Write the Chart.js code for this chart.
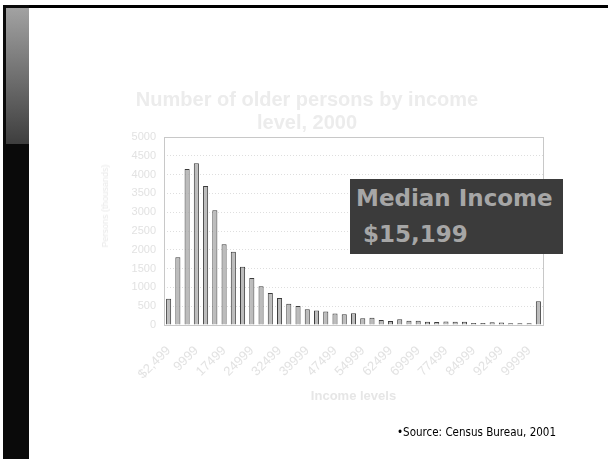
<!DOCTYPE html>
<html>
<head>
<meta charset="utf-8">
<script src="https://cdn.jsdelivr.net/npm/chart.js@4.4.0/dist/chart.umd.min.js"></script>
<style>
  body { margin: 0; background: #fff; }
  #slide { position: relative; width: 608px; height: 459px; overflow: hidden; background: #fff; }
  .frame { position: absolute; }
  #chartBox { position: absolute; left: 0; top: 0; width: 608px; height: 459px; }
  #median { position: absolute; left: 350px; top: 179px; width: 213px; height: 75px; background: #3b3b3b; }
  .med { position: absolute; color: #a6a6a6; font-family: "DejaVu Sans", sans-serif; font-weight: bold; font-size: 23px; line-height: normal; white-space: nowrap; }
  #ytitle { position: absolute; left: 105px; top: 206px; transform: translate(-50%, -50%) rotate(-90deg); font-family: "Liberation Sans", Arial, sans-serif; font-size: 9px; color: #e8e8e8; white-space: nowrap; }
  #source { position: absolute; left: 397px; top: 425px; font-family: "DejaVu Sans Condensed", "DejaVu Sans", sans-serif; font-size: 11.5px; color: #000; white-space: nowrap; line-height: normal; }
</style>
</head>
<body>
<div id="slide">
  <div class="frame" style="left:3px;top:5px;width:605px;height:3px;background:#000"></div>
  <div class="frame" style="left:3px;top:5px;width:26px;height:454px;background:#0a0a0a"></div>
  <div class="frame" style="left:6px;top:8px;width:23px;height:136px;background:linear-gradient(#a2a2a2,#3e3e3e)"></div>
  <div id="chartBox"><canvas id="myChart"></canvas></div>
  <div id="ytitle">Persons (thousands)</div>
  <div id="median">
    <span class="med" style="left:6px;top:6px">Median Income</span>
    <span class="med" style="left:13px;top:42px">$15,199</span>
  </div>
  <div id="source">•Source: Census Bureau, 2001</div>
</div>
<script>
const ctx = document.getElementById('myChart');

// income level categories (upper bound of each $2,500 band)
const incomeLevels = ['$2,499', '4999', '7499', '9999', '12499', '14999', '17499', '19999',
  '22499', '24999', '27499', '29999', '32499', '34999', '37499', '39999', '42499', '44999',
  '47499', '49999', '52499', '54999', '57499', '59999', '62499', '64999', '67499', '69999',
  '72499', '74999', '77499', '79999', '82499', '84999', '87499', '89999', '92499', '94999',
  '97499', '99999', '100000+']

// persons, thousands
const persons = [700, 1800, 4150, 4300, 3700, 3050, 2150, 1950, 1550, 1250, 1030, 850, 720,
  565, 505, 420, 385, 360, 305, 285, 310, 180, 190, 135, 105, 150, 115, 115, 85, 80, 90,
  85, 85, 55, 55, 70, 65, 45, 45, 45, 630]

const titleLines = ['Number of older persons by income', 'level, 2000']
const xTitle = 'Income levels'

// light frame round the plot area
const plotFrame = {
  id: 'plotFrame',
  afterDraw(chart) {
    const a = chart.chartArea
    const c = chart.ctx
    c.save()
    c.strokeStyle = '#c8c8c8'
    c.lineWidth = 1
    c.strokeRect(Math.round(a.left) + 0.5, Math.round(a.top) + 0.5, Math.round(a.right - a.left), Math.round(a.bottom - a.top))
    c.restore()
  }
}

new Chart(ctx, {
  type: 'bar',
  data: {
    labels: incomeLevels,
    datasets: [{
      data: persons,
      backgroundColor: '#bcbcbc',
      borderColor: '#3c3c3c',
      borderWidth: 1,
      barPercentage: 0.55,
      categoryPercentage: 1
    }]
  },
  options: {
    responsive: true,
    maintainAspectRatio: false,
    animation: false,
    devicePixelRatio: 1,
    layout: { padding: { left: 71, right: 65, top: 78, bottom: 54 } },
    plugins: {
      legend: { display: false },
      tooltip: { enabled: false },
      title: {
        display: true,
        text: titleLines,
        color: '#ececec',
        font: { family: 'Liberation Sans', size: 20, weight: 'bold', lineHeight: 1.15 },
        padding: { top: 10.5, bottom: 2.5 }
      }
    },
    scales: {
      x: {
        grid: { display: false },
        border: { display: false },
        afterFit: (s) => { s.height = 80 },
        ticks: {
          autoSkip: false,
          minRotation: 45,
          maxRotation: 45,
          padding: 10,
          color: '#e2e2e2',
          font: { family: 'Liberation Sans', size: 13 },
          callback: function (v, i) { return i % 3 === 0 ? this.getLabelForValue(v) : '' }
        },
        title: {
          display: true,
          text: xTitle,
          color: '#e6e6e6',
          font: { family: 'Liberation Sans', size: 13, weight: 'bold' },
          padding: { top: 2, bottom: 1 }
        }
      },
      y: {
        min: 0,
        max: 5000,
        afterFit: (s) => { s.width = 93 },
        grid: { color: '#dedede', drawTicks: false },
        border: { display: false, dash: [1, 2] },
        ticks: {
          stepSize: 500,
          padding: 8,
          color: '#e2e2e2',
          font: { family: 'Liberation Sans', size: 11 },
          callback: (v) => String(v)
        }
      }
    }
  },
  plugins: [plotFrame]
})
</script>
</body>
</html>
